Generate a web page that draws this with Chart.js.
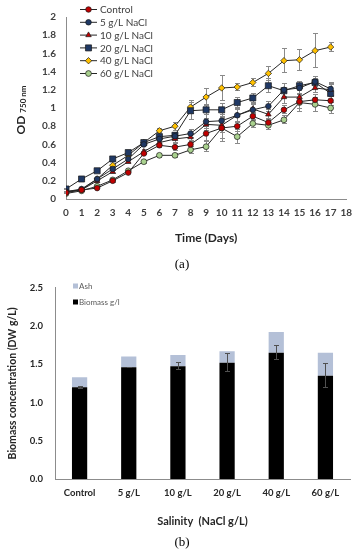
<!DOCTYPE html>
<html>
<head>
<meta charset="utf-8">
<script src="https://cdn.jsdelivr.net/npm/chart.js@4.4.0/dist/chart.umd.min.js"></script>
<style>
  body { margin: 0; background: #fff; width: 360px; height: 550px; position: relative; overflow: hidden; }
  #wrapA { position: absolute; left: 0; top: 0; width: 360px; height: 260px; }
  #wrapB { position: absolute; left: 0; top: 270px; width: 360px; height: 280px; }
  .cap { position: absolute; left: 2px; width: 360px; text-align: center; font-family: "Liberation Serif", serif; font-size: 13px; color: #000; line-height: 14px; }
</style>
</head>
<body>
<div id="wrapA"><canvas id="odChart" width="360" height="260"></canvas></div>
<div class="cap" style="top: 257px;">(a)</div>
<div id="wrapB"><canvas id="bioChart" width="360" height="280"></canvas></div>
<div class="cap" style="top: 535px;">(b)</div>
<script>
// ---- growth curves (OD 750 nm) ----
const days = [0, 1, 2, 3, 4, 5, 6, 7, 8, 9, 10, 11, 12, 13, 14, 15, 16, 17];
const odControl = [0.07, 0.10, 0.12, 0.20, 0.29, 0.50, 0.59, 0.57, 0.60, 0.72, 0.78, 0.80, 0.91, 0.84, 0.98, 1.07, 1.09, 1.08];
const od5 = [0.08, 0.11, 0.22, 0.33, 0.44, 0.60, 0.66, 0.69, 0.72, 0.85, 0.86, 0.92, 0.98, 1.02, 1.20, 1.22, 1.29, 1.21];
const od10 = [0.08, 0.10, 0.20, 0.30, 0.41, 0.52, 0.62, 0.66, 0.68, 0.82, 0.81, 0.92, 0.99, 0.93, 1.12, 1.12, 1.22, 1.20];
const od20 = [0.11, 0.22, 0.31, 0.44, 0.51, 0.62, 0.685, 0.70, 0.97, 0.98, 0.98, 1.06, 1.11, 1.245, 1.19, 1.245, 1.28, 1.16];
const od40 = [0.08, 0.10, 0.22, 0.37, 0.48, 0.62, 0.75, 0.80, 1.01, 1.12, 1.22, 1.23, 1.28, 1.38, 1.52, 1.53, 1.63, 1.67];
const od60 = [0.06, 0.09, 0.14, 0.21, 0.31, 0.41, 0.48, 0.48, 0.54, 0.575, 0.78, 0.685, 0.83, 0.81, 0.87, 1.06, 1.04, 1.00];

const errControl = [0.01, 0.01, 0.01, 0.02, 0.02, 0.02, 0.03, 0.04, 0.05, 0.08, 0.12, 0.06, 0.05, 0.05, 0.05, 0.08, 0.06, 0.06];
const err5 = [0.01, 0.01, 0.02, 0.02, 0.02, 0.02, 0.03, 0.04, 0.05, 0.08, 0.10, 0.08, 0.06, 0.06, 0.08, 0.08, 0.06, 0.08];
const err10 = [0.01, 0.01, 0.02, 0.02, 0.02, 0.03, 0.03, 0.04, 0.05, 0.07, 0.08, 0.07, 0.06, 0.06, 0.08, 0.08, 0.06, 0.08];
const err20 = [0.01, 0.01, 0.01, 0.02, 0.02, 0.02, 0.03, 0.04, 0.10, 0.06, 0.08, 0.06, 0.06, 0.08, 0.08, 0.05, 0.05, 0.10];
const err40 = [0.01, 0.01, 0.01, 0.02, 0.02, 0.02, 0.03, 0.05, 0.08, 0.10, 0.14, 0.04, 0.05, 0.08, 0.14, 0.12, 0.19, 0.05];
const err60 = [0.01, 0.01, 0.01, 0.01, 0.02, 0.02, 0.03, 0.03, 0.04, 0.06, 0.15, 0.08, 0.05, 0.05, 0.05, 0.10, 0.08, 0.07];

const odTicks = [0, 0.2, 0.4, 0.6, 0.8, 1, 1.2, 1.4, 1.6, 1.8, 2];

// ---- biomass bars ----
const salinity = ["Control", "5 g/L", "10 g/L", "20 g/L", "40 g/L", "60 g/L"];
const biomass = [1.20, 1.46, 1.475, 1.52, 1.65, 1.35];
const ash = [0.13, 0.14, 0.145, 0.15, 0.27, 0.30];
const biomassErr = [0.02, 0.01, 0.05, 0.125, 0.10, 0.16];

const FONT = "Lato";

function series(label, values, errs, fill, style, radius) {
  return {
    label: label,
    data: days.map((d, i) => ({ x: d, y: values[i] })),
    errors: errs,
    borderColor: "#262626",
    borderWidth: 1,
    pointStyle: style,
    pointRadius: radius,
    pointHoverRadius: radius,
    pointBackgroundColor: fill,
    pointBorderColor: "#1a1a1a",
    pointBorderWidth: 0.7,
    tension: 0,
  };
}

const odErrorBars = {
  id: "odErrorBars",
  beforeDatasetsDraw(chart) {
    const ctx = chart.ctx;
    const yScale = chart.scales.y;
    ctx.save();
    ctx.strokeStyle = "#8a8a8a";
    ctx.lineWidth = 1;
    chart.data.datasets.forEach((ds, i) => {
      const meta = chart.getDatasetMeta(i);
      meta.data.forEach((pt, j) => {
        const v = ds.data[j].y;
        const e = ds.errors[j];
        const yt = Math.round(yScale.getPixelForValue(v + e));
        const yb = Math.round(yScale.getPixelForValue(v - e));
        const x = Math.round(pt.x) + 0.5;
        ctx.beginPath();
        ctx.moveTo(x, yt); ctx.lineTo(x, yb);
        ctx.moveTo(x - 2.5, yt + 0.5); ctx.lineTo(x + 2.5, yt + 0.5);
        ctx.moveTo(x - 2.5, yb - 0.5); ctx.lineTo(x + 2.5, yb - 0.5);
        ctx.stroke();
      });
    });
    ctx.restore();
  },
};

const odLegend = {
  id: "odLegend",
  afterDraw(chart) {
    const ctx = chart.ctx;
    ctx.save();
    chart.data.datasets.forEach((ds, i) => {
      const y = 9.5 + i * 12.8;
      ctx.strokeStyle = ds.borderColor;
      ctx.lineWidth = 1;
      ctx.beginPath();
      ctx.moveTo(80, y); ctx.lineTo(97, y);
      ctx.stroke();
      ctx.fillStyle = ds.pointBackgroundColor;
      ctx.strokeStyle = ds.pointBorderColor;
      ctx.lineWidth = 0.7;
      Chart.helpers.drawPoint(ctx, { pointStyle: ds.pointStyle, radius: ds.pointRadius, rotation: 0, borderWidth: 0.7 }, 88.5, y);
      ctx.fillStyle = "#404040";
      ctx.font = "10px " + FONT;
      ctx.textBaseline = "middle";
      ctx.textAlign = "left";
      ctx.fillText(ds.label, 100, y + 0.5);
    });
    ctx.restore();
  },
};

const odYTitle = {
  id: "odYTitle",
  afterDraw(chart) {
    const ctx = chart.ctx;
    ctx.save();
    ctx.translate(21, 110);
    ctx.rotate(-Math.PI / 2);
    ctx.fillStyle = "#262626";
    ctx.textBaseline = "middle";
    ctx.textAlign = "left";
    ctx.font = "bold 12px " + FONT;
    const w1 = ctx.measureText("OD").width;
    ctx.font = "bold 8px " + FONT;
    const w2 = ctx.measureText("750 nm").width;
    const start = -(w1 + 3 + w2) / 2;
    ctx.font = "bold 12px " + FONT;
    ctx.fillText("OD", start, 0);
    ctx.font = "bold 8px " + FONT;
    ctx.fillText("750 nm", start + w1 + 3, 2);
    ctx.restore();
  },
};

new Chart(document.getElementById("odChart").getContext("2d"), {
  type: "line",
  data: {
    datasets: [
      series("Control", odControl, errControl, "#c00000", "circle", 2.8),
      series("5 g/L NaCl", od5, err5, "#1f3864", "circle", 2.8),
      series("10 g/L NaCl", od10, err10, "#c00000", "triangle", 3.2),
      series("20 g/L NaCl", od20, err20, "#1f3864", "rect", 4.3),
      series("40 g/L NaCl", od40, err40, "#ffc000", "rectRot", 3.2),
      series("60 g/L NaCl", od60, err60, "#a9d18e", "circle", 2.9),
    ],
  },
  options: {
    responsive: false,
    animation: false,
    devicePixelRatio: 1,
    layout: { padding: { top: 17, right: 13, left: 0, bottom: 0 } },
    plugins: { legend: { display: false }, tooltip: { enabled: false } },
    scales: {
      x: {
        type: "linear",
        min: 0,
        max: 18,
        afterFit: (s) => { s.height = 61; },
        afterBuildTicks: (s) => { s.ticks = [...days, 18].map((v) => ({ value: v })); },
        grid: { display: false, drawTicks: false },
        border: { display: true, color: "#8c8c8c", width: 1 },
        ticks: { autoSkip: false, maxRotation: 0, padding: 8, color: "#404040", font: { family: FONT, size: 10, weight: "bold" }, callback: (v) => String(v) },
        title: { display: true, text: "Time (Days)", color: "#262626", padding: { top: 0, bottom: 15 }, font: { family: FONT, size: 12, weight: "bold" } },
      },
      y: {
        min: 0,
        max: 2,
        afterFit: (s) => { s.width = 66; },
        afterBuildTicks: (s) => { s.ticks = odTicks.map((v) => ({ value: v })); },
        grid: { display: false, drawTicks: false },
        border: { display: true, color: "#8c8c8c", width: 1 },
        ticks: { autoSkip: false, padding: 10, color: "#404040", font: { family: FONT, size: 10, weight: "bold" }, callback: (v) => String(Math.round(v * 10) / 10) },
      },
    },
  },
  plugins: [odErrorBars, odLegend, odYTitle],
});

// ---- bar chart ----
const bioErrorBars = {
  id: "bioErrorBars",
  afterDatasetsDraw(chart) {
    const ctx = chart.ctx;
    const yScale = chart.scales.y;
    const meta = chart.getDatasetMeta(0);
    ctx.save();
    ctx.strokeStyle = "#505050";
    ctx.lineWidth = 1;
    meta.data.forEach((bar, j) => {
      const yt = Math.round(yScale.getPixelForValue(biomass[j] + biomassErr[j]));
      const yb = Math.round(yScale.getPixelForValue(biomass[j] - biomassErr[j]));
      const x = Math.round(bar.x) + 0.5;
      ctx.beginPath();
      ctx.moveTo(x, yt); ctx.lineTo(x, yb);
      ctx.moveTo(x - 2.5, yt + 0.5); ctx.lineTo(x + 2.5, yt + 0.5);
      ctx.moveTo(x - 2.5, yb - 0.5); ctx.lineTo(x + 2.5, yb - 0.5);
      ctx.stroke();
    });
    ctx.restore();
  },
};

const bioLegend = {
  id: "bioLegend",
  afterDraw(chart) {
    const ctx = chart.ctx;
    const items = [chart.data.datasets[1], chart.data.datasets[0]];
    ctx.save();
    items.forEach((ds, i) => {
      const y = 16 + i * 16;
      ctx.fillStyle = ds.backgroundColor;
      ctx.fillRect(73, y - 2.5, 5, 5);
      ctx.fillStyle = "#595959";
      ctx.font = "8px " + FONT;
      ctx.textBaseline = "middle";
      ctx.textAlign = "left";
      ctx.fillText(ds.label, 79, y + 0.5);
    });
    ctx.restore();
  },
};

new Chart(document.getElementById("bioChart").getContext("2d"), {
  type: "bar",
  data: {
    labels: salinity,
    datasets: [
      { label: "Biomass g/l", data: biomass, backgroundColor: "#000000", barPercentage: 0.31, categoryPercentage: 1 },
      { label: "Ash", data: ash, backgroundColor: "#b4c0d7", barPercentage: 0.31, categoryPercentage: 1 },
    ],
  },
  options: {
    responsive: false,
    animation: false,
    devicePixelRatio: 1,
    layout: { padding: { top: 9, right: 10, left: 0, bottom: 0 } },
    plugins: { legend: { display: false }, tooltip: { enabled: false } },
    scales: {
      x: {
        stacked: true,
        afterFit: (s) => { s.height = 71; },
        grid: { display: false, drawTicks: false },
        border: { display: true, color: "#8c8c8c", width: 1 },
        ticks: { padding: 8, color: "#262626", font: { family: FONT, size: 9.5, weight: "bold" } },
        title: { display: true, text: "Salinity  (NaCl g/L)", color: "#262626", padding: { top: 0, bottom: 22 }, font: { family: FONT, size: 11, weight: "bold" } },
      },
      y: {
        stacked: true,
        min: 0,
        max: 2.5,
        afterFit: (s) => { s.width = 55; },
        grid: { display: false, drawTicks: false },
        border: { display: true, color: "#8c8c8c", width: 1 },
        ticks: { stepSize: 0.5, padding: 12, color: "#262626", font: { family: FONT, size: 9.5, weight: "bold" }, callback: (v) => Number(v).toFixed(1) },
        title: { display: true, text: "Biomass concentration (DW g/L)", color: "#262626", padding: { top: 6, bottom: 4 }, font: { family: FONT, size: 10.5, weight: "bold" } },
      },
    },
  },
  plugins: [bioErrorBars, bioLegend],
});
</script>
</body>
</html>
